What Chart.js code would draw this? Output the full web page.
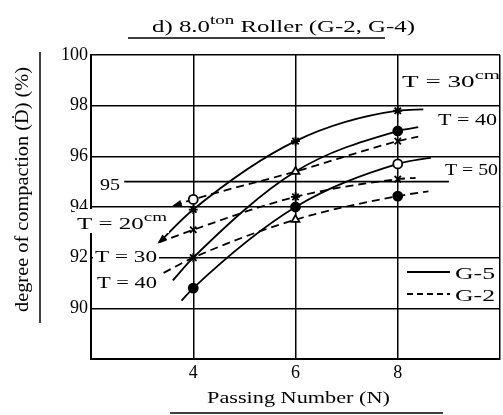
<!DOCTYPE html>
<html><head><meta charset="utf-8">
<script src="https://cdn.jsdelivr.net/npm/chart.js@4"></script>
<style>html,body{margin:0;padding:0;background:#fff}#wrap{width:503px;height:415px}</style>
</head><body><div id="wrap"><canvas id="c" width="503" height="415"></canvas></div>
<script>
// ---- data ----
const xTickLabels = [4, 6, 8];
const yTickLabels = [90, 92, 94, 96, 98, 100];
// G-5 (solid)
const g5T20x = [3.33, 4, 6, 8, 8.5];
const g5T20y = [92.6, 93.9, 96.6, 97.8, 97.85];
const g5T30x = [3.6, 4, 6, 8, 8.4];
const g5T30y = [91.1, 92.0, 95.4, 97.0, 97.15];
const g5T40x = [3.77, 4, 6, 8, 8.65];
const g5T40y = [90.3, 90.8, 94.0, 95.7, 95.95];
// G-2 (dashed)
const g2T20x = [3.62, 4, 6, 8, 8.4];
const g2T20y = [94.05, 94.3, 95.4, 96.6, 96.78];
const g2T30x = [3.33, 4, 6, 8, 8.35];
const g2T30y = [92.6, 93.1, 94.4, 95.1, 95.15];
const g2T40x = [3.42, 4, 6, 8, 8.6];
const g2T40y = [91.4, 92.0, 93.5, 94.43, 94.62];
// 95 % reference line
const ref95x = [2.65, 9.0];
const ref95y = [95, 95];

const pts = (xs, ys) => xs.map((x, i) => ({x, y: ys[i]}));

// marker styles (first/last entries are curve ends without markers)
function series(xs, ys, dashed, styles, fills, extra) {
  return Object.assign({
    data: pts(xs, ys),
    borderColor: '#000',
    borderWidth: 1.8,
    borderDash: dashed ? [8, 5] : [],
    cubicInterpolationMode: 'monotone',
    pointStyle: styles,
    pointRadius: styles.map(s => s ? 4.5 : 0),
    pointBackgroundColor: fills,
    pointBorderColor: '#000',
    pointBorderWidth: 1.8,
    fill: false
  }, extra || {});
}

const datasets = [
  series(g5T20x, g5T20y, false, [false, 'star', 'star', 'star', false], ['#000','#000','#000','#000','#000'], {arrow: true}),
  series(g5T30x, g5T30y, false, [false, 'star', 'triangle', 'circle', false], ['#000','#000','#fff','#000','#000']),
  series(g5T40x, g5T40y, false, [false, 'circle', 'circle', 'circle', false], ['#000','#000','#000','#fff','#000']),
  series(g2T20x, g2T20y, true, [false, 'circle', false, 'crossRot', false], ['#000','#fff','#000','#000','#000'], {arrow: true}),
  series(g2T30x, g2T30y, true, [false, 'crossRot', 'star', 'crossRot', false], ['#000','#000','#000','#000','#000']),
  series(g2T40x, g2T40y, true, [false, false, 'triangle', 'circle', false], ['#000','#000','#fff','#000','#000']),
  {data: pts(ref95x, ref95y), borderColor: '#000', borderWidth: 1.6, pointRadius: 0, fill: false}
];

const SERIF = '"Liberation Serif", "Times New Roman", serif';

function drawSegs(ctx, segs, left, baseline, targetW, bg) {
  let total = 0;
  segs.forEach(s => { ctx.font = s.size + 'px ' + SERIF; s.w = ctx.measureText(s.t).width; total += s.w; });
  const sx = targetW ? targetW / total : 1;
  if (bg) { ctx.fillStyle = '#fff'; ctx.fillRect(left - 2, baseline - bg[0], total * sx + 4, bg[0] + bg[1]); }
  ctx.save();
  ctx.translate(left, baseline);
  ctx.scale(sx, 1);
  ctx.fillStyle = '#000'; ctx.textBaseline = 'alphabetic'; ctx.textAlign = 'left';
  let x = 0;
  segs.forEach(s => { ctx.font = s.size + 'px ' + SERIF; ctx.fillText(s.t, x, -(s.rise || 0)); x += s.w; });
  ctx.restore();
}
function hline(ctx, x1, x2, y, w, dash) {
  ctx.save(); ctx.strokeStyle = '#000'; ctx.lineWidth = w || 1.5; ctx.setLineDash(dash || []);
  ctx.beginPath(); ctx.moveTo(x1, y); ctx.lineTo(x2, y); ctx.stroke(); ctx.restore();
}

const decor = {
  id: 'decor',
  afterDatasetsDraw(chart) {
    const ctx = chart.ctx;
    // arrowheads at curve starts
    chart.data.datasets.forEach((ds, i) => {
      if (!ds.arrow) return;
      const m = chart.getDatasetMeta(i).data;
      const p0 = m[0], p1 = m[1];
      const a = Math.atan2(p0.y - p1.y, p0.x - p1.x);
      ctx.save(); ctx.fillStyle = '#000'; ctx.translate(p0.x, p0.y); ctx.rotate(a);
      ctx.beginPath(); ctx.moveTo(2, 0); ctx.lineTo(-8, -3.5); ctx.lineTo(-8, 3.5); ctx.closePath(); ctx.fill();
      ctx.restore();
    });
  },
  afterDraw(chart) {
    const ctx = chart.ctx;
    // title
    drawSegs(ctx, [{t: 'd) 8.0', size: 17}, {t: 'ton', size: 13, rise: 8}, {t: ' Roller (G-2, G-4)', size: 17}], 152, 32, 263);
    hline(ctx, 128, 385, 38, 1.5);
    // x title
    drawSegs(ctx, [{t: 'Passing Number (N)', size: 17}], 207, 403, 183);
    hline(ctx, 170, 443, 413, 1.5);
    // y title
    ctx.save(); ctx.translate(28, 190); ctx.rotate(-Math.PI / 2);
    drawSegs(ctx, [{t: 'degree of compaction (\u1E0A) (%)', size: 19}], -122, 0, 245);
    ctx.restore();
    ctx.save(); ctx.strokeStyle = '#000'; ctx.lineWidth = 1.5; ctx.beginPath(); ctx.moveTo(40, 52); ctx.lineTo(40, 323); ctx.stroke(); ctx.restore();
    // annotations
    drawSegs(ctx, [{t: '95', size: 17}], 100, 190, 20);
    drawSegs(ctx, [{t: 'T = 20', size: 17}, {t: 'cm', size: 13, rise: 8}], 77, 229, 90, [20, 4]);
    drawSegs(ctx, [{t: 'T = 30', size: 17}], 95, 262, 62, [13, 4]);
    drawSegs(ctx, [{t: 'T = 40', size: 17}], 97, 288, 60, [13, 4]);
    drawSegs(ctx, [{t: 'T = 30', size: 17}, {t: 'cm', size: 13, rise: 8}], 402, 87, 98);
    drawSegs(ctx, [{t: 'T = 40', size: 17}], 438, 125, 59);
    drawSegs(ctx, [{t: 'T = 50', size: 17}], 445, 175, 53);
    // legend
    hline(ctx, 407, 450, 272, 1.8);
    drawSegs(ctx, [{t: 'G-5', size: 17}], 455, 279, 40);
    hline(ctx, 407, 450, 294, 1.8, [6, 4]);
    drawSegs(ctx, [{t: 'G-2', size: 17}], 455, 301, 40);
  }
};

new Chart(document.getElementById('c'), {
  type: 'line',
  data: {datasets},
  plugins: [decor],
  options: {
    responsive: false,
    animation: false,
    devicePixelRatio: 1,
    layout: {padding: {top: 55, right: 1, left: 0, bottom: 0}},
    plugins: {legend: {display: false}, title: {display: false}, tooltip: {enabled: false}},
    scales: {
      x: {
        type: 'linear', min: 2, max: 10,
        ticks: {stepSize: 2, color: '#000', padding: 3, font: {family: SERIF, size: 18},
          callback: v => xTickLabels.includes(v) ? String(v) : ''},
        grid: {color: '#000', lineWidth: 1.5, drawTicks: false},
        border: {color: '#000', width: 2},
        afterFit: s => { s.height = 56; }
      },
      y: {
        type: 'linear', min: 88, max: 100,
        ticks: {stepSize: 2, color: '#000', padding: 3, font: {family: SERIF, size: 18},
          callback: v => yTickLabels.includes(v) ? String(v) : ''},
        grid: {color: '#000', lineWidth: 1.5, drawTicks: false},
        border: {color: '#000', width: 2},
        afterFit: s => { s.width = 91; }
      }
    }
  }
});
</script>
</body></html>
